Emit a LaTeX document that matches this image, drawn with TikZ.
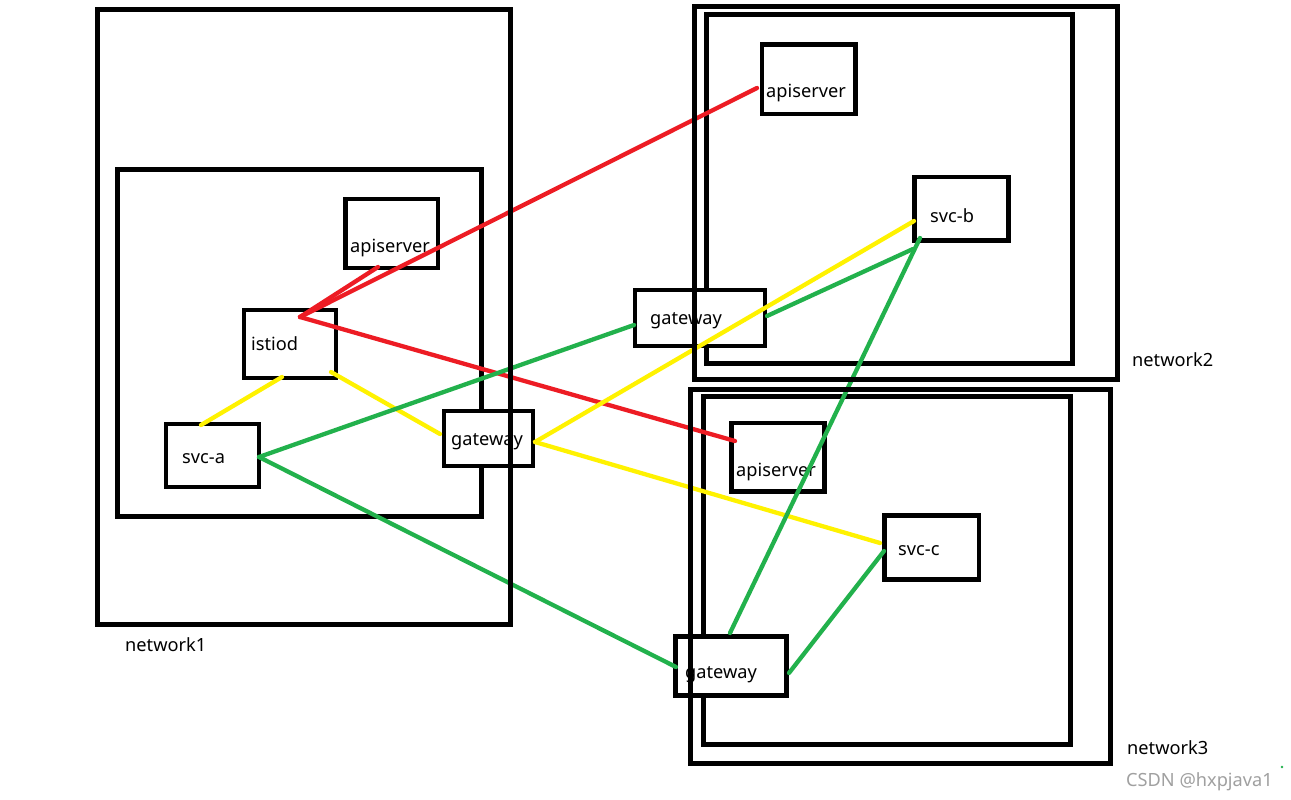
\documentclass[tikz,border=0pt]{standalone}
\usepackage{fontspec}
\setmainfont{Noto Sans}
\usetikzlibrary{calc}
\definecolor{pred}{HTML}{ED1C24}
\definecolor{pyel}{HTML}{FFF200}
\definecolor{pgrn}{HTML}{22B14C}
\definecolor{wmk}{HTML}{A0A0A0}
\tikzset{
  netbox/.style={draw=black, line width=5pt, inner sep=0pt, rectangle},
  nodebox/.style={draw=black, line width=4.8pt, inner sep=0pt, rectangle},
  gwbox/.style={nodebox, fill=white},
  lbl/.style={anchor=base west, inner sep=0pt, font=\fontsize{18.2}{21}\selectfont},
  redl/.style={draw=pred, line width=4.3pt, line cap=round},
  yell/.style={draw=pyel, line width=4.3pt, line cap=round},
  grnl/.style={draw=pgrn, line width=4.3pt, line cap=round},
}
\begin{document}
\begin{tikzpicture}[x=1pt,y=-1pt]
\useasboundingbox (0,0) rectangle (1291,800);
\fill[white] (0,0) rectangle (1291,800);
% inner network boxes
\node[netbox, minimum width=364pt, minimum height=347pt] (n1i) at (299,342.5) {};
\node[netbox, minimum width=365.5pt, minimum height=348.5pt] (n2i) at (889.25,188.75) {};
\node[netbox, minimum width=367pt, minimum height=348pt] (n3i) at (886.5,570) {};
% gateways (filled)
\node[gwbox, minimum width=89pt, minimum height=55pt] (gw1) at (488.5,438.5) {};
\node[gwbox, minimum width=130pt, minimum height=56pt] (gw2) at (700,318) {};
\node[gwbox, minimum width=111pt, minimum height=59pt] (gw3) at (731,666) {};
% other nodes
\node[nodebox, minimum width=92.5pt, minimum height=69pt] (api1) at (391.75,233.5) {};
\node[nodebox, minimum width=92pt, minimum height=68pt] (istiod) at (290,344) {};
\node[nodebox, minimum width=93pt, minimum height=63pt] (svca) at (212.5,455.5) {};
\node[nodebox, minimum width=93.5pt, minimum height=69.5pt] (api2) at (808.75,79.25) {};
\node[nodebox, minimum width=94pt, minimum height=63.5pt] (svcb) at (961.5,208.75) {};
\node[nodebox, minimum width=93pt, minimum height=68.5pt] (api3) at (778,457.25) {};
\node[nodebox, minimum width=94.5pt, minimum height=64pt] (svcc) at (931.75,547.5) {};
% labels
\node[lbl] (t-api1) at (350,252) {apiserver};
\node[lbl] (t-istiod) at (251,350) {istiod};
\node[lbl] (t-svca) at (182,463) {svc-a};
\node[lbl] (t-gw1) at (451,445) {gateway};
\node[lbl] (t-gw2) at (650,324) {gateway};
\node[lbl] (t-api2) at (766,98) {apiserver};
\node[lbl] (t-svcb) at (930,222) {svc-b};
\node[lbl] (t-api3) at (736,476) {apiserver};
\node[lbl] (t-svcc) at (898,555) {svc-c};
\node[lbl] (t-gw3) at (685,678) {gateway};
\node[lbl] (t-n1) at (125,651) {network1};
\node[lbl] (t-n2) at (1132,366) {network2};
\node[lbl] (t-n3) at (1127,754) {network3};
\node[lbl, text=wmk] (t-wm) at (1126,786) {CSDN @hxpjava1};
\fill[pgrn] (1282,767) circle (1.3);
% red connectors
\draw[redl] ($(istiod)+(10,-27)$) -- ($(api1)+(-13.75,33.5)$);
\draw[redl] ($(istiod)+(10,-27)$) -- ($(api2)+(-51.75,8.75)$);
\draw[redl] ($(istiod)+(10,-27)$) -- ($(api3)+(-43,-16.25)$);
% yellow connectors
\draw[yell] ($(istiod)+(-8,33)$) -- ($(svca)+(-11.5,-30.5)$);
\draw[yell] ($(istiod)+(41,28)$) -- ($(gw1)+(-48.5,-4.5)$);
\draw[yell] ($(gw1)+(46.5,3.5)$) -- ($(svcb)+(-47.5,12.25)$);
\draw[yell] ($(gw1)+(46.5,3.5)$) -- ($(svcc)+(-51.75,-4.5)$);
% green connectors
\draw[grnl] ($(svca)+(46.5,1.5)$) -- ($(gw2)+(-66,7)$);
\draw[grnl] ($(svca)+(46.5,1.5)$) -- ($(gw3)+(-55,1)$);
\draw[grnl] ($(gw2)+(67,-2)$) -- ($(svcb)+(-48.5,40.25)$);
\draw[grnl] ($(svcb)+(-41.5,29.25)$) -- ($(gw3)+(-1,-33)$);
\draw[grnl] ($(gw3)+(58,7)$) -- ($(svcc)+(-47.75,3.5)$);
% outer network boxes
\node[netbox, minimum width=413pt, minimum height=614pt] (n1o) at (303.5,317) {};
\node[netbox, minimum width=422.5pt, minimum height=372.5pt] (n2o) at (905.75,192.75) {};
\node[netbox, minimum width=419.5pt, minimum height=374pt] (n3o) at (900.25,576) {};
\end{tikzpicture}
\end{document}
